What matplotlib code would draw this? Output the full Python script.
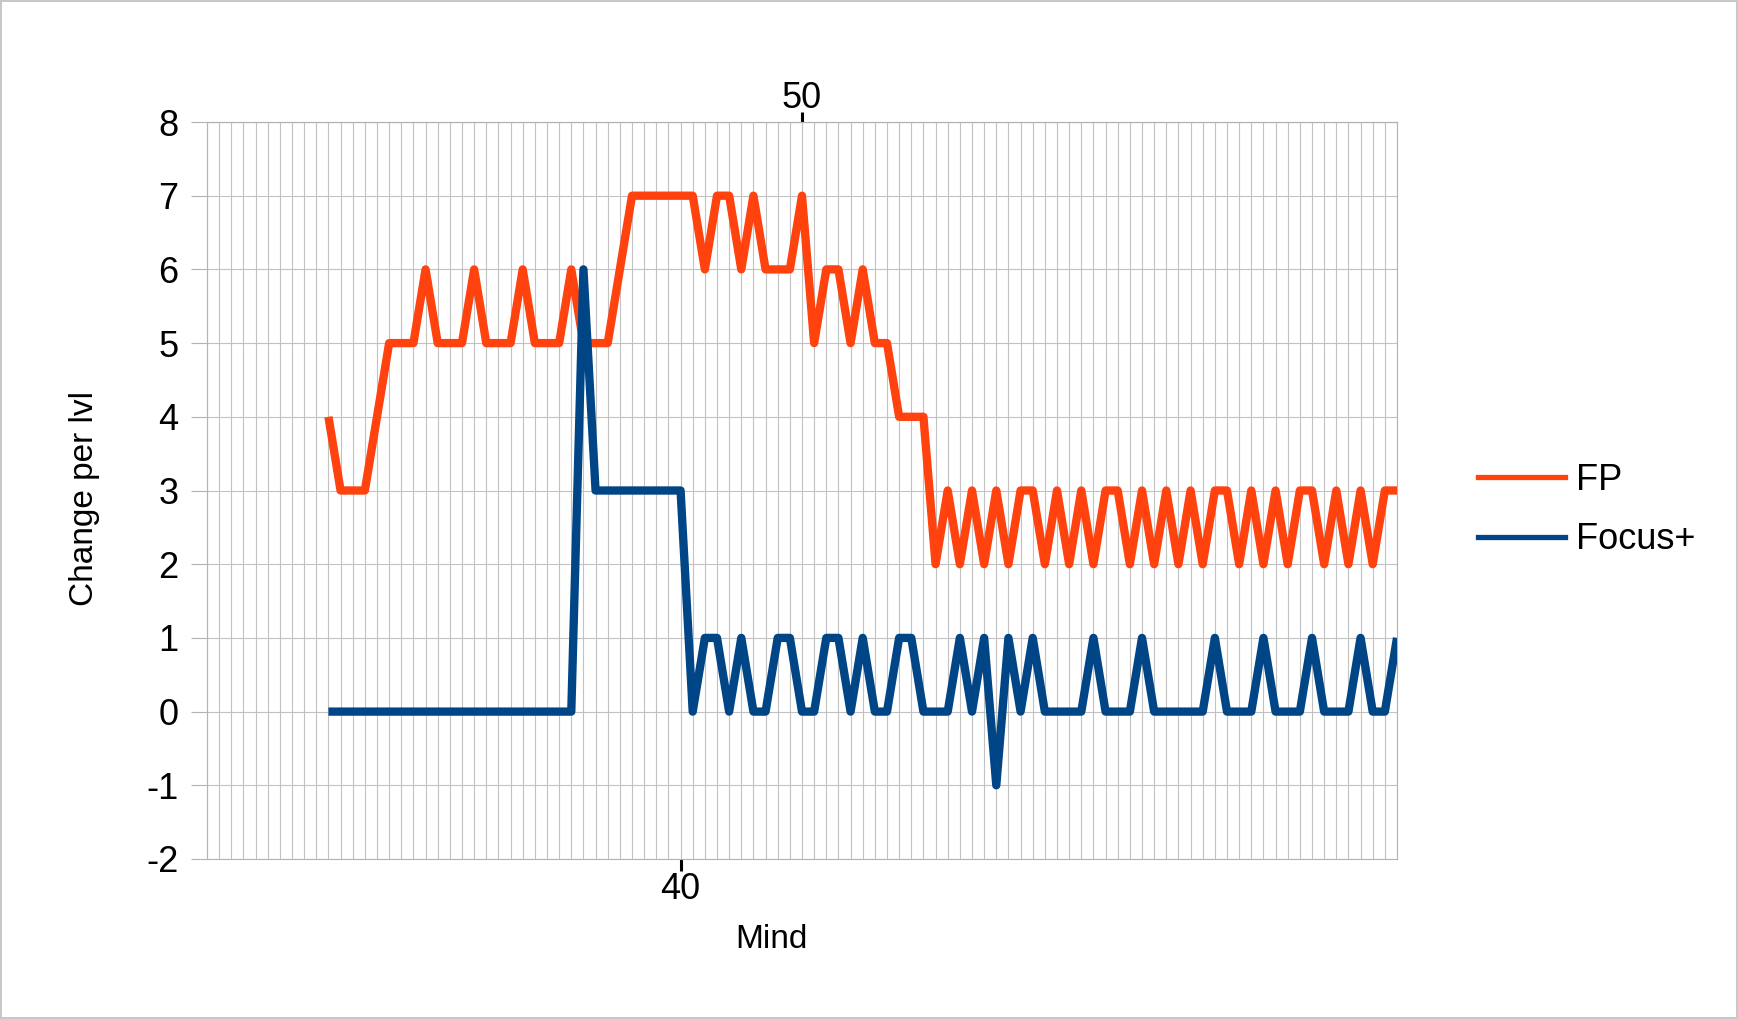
import matplotlib
matplotlib.use('Agg')
import matplotlib.pyplot as plt
from matplotlib.lines import Line2D

# Data (one point per level, levels 11..99)
levels = list(range(11, 100))

fp_values = [
    4, 3, 3, 3, 4, 5, 5, 5, 6, 5,   # 11-20
    5, 5, 6, 5, 5, 5, 6, 5, 5, 5,   # 21-30
    6, 5, 5, 5, 6, 7, 7, 7, 7, 7,   # 31-40
    7, 6, 7, 7, 6, 7, 6, 6, 6, 7,   # 41-50
    5, 6, 6, 5, 6, 5, 5, 4, 4, 4,   # 51-60
    2, 3, 2, 3, 2, 3, 2, 3, 3, 2,   # 61-70
    3, 2, 3, 2, 3, 3, 2, 3, 2, 3,   # 71-80
    2, 3, 2, 3, 3, 2, 3, 2, 3, 2,   # 81-90
    3, 3, 2, 3, 2, 3, 2, 3, 3,      # 91-99
]

focus_values = [
    0, 0, 0, 0, 0, 0, 0, 0, 0, 0,   # 11-20
    0, 0, 0, 0, 0, 0, 0, 0, 0, 0,   # 21-30
    0, 6, 3, 3, 3, 3, 3, 3, 3, 3,   # 31-40
    0, 1, 1, 0, 1, 0, 0, 1, 1, 0,   # 41-50
    0, 1, 1, 0, 1, 0, 0, 1, 1, 0,   # 51-60
    0, 0, 1, 0, 1, -1, 1, 0, 1, 0,  # 61-70
    0, 0, 0, 1, 0, 0, 0, 1, 0, 0,   # 71-80
    0, 0, 0, 1, 0, 0, 0, 1, 0, 0,   # 81-90
    0, 1, 0, 0, 0, 1, 0, 0, 1,      # 91-99
]

series_names = ['FP', 'Focus+']
series_colors = ['#ff420e', '#004586']

y_ticks = list(range(-2, 9))
x_limits = (1, 99)
bottom_tick = 40
top_tick = 50

GRID_COLOR = '#c2c2c2'
AXIS_COLOR = '#b3b3b3'

plt.rcParams['font.family'] = ['Liberation Sans', 'DejaVu Sans']
plt.rcParams['axes.unicode_minus'] = False  # plain hyphen like the original

fig = plt.figure(figsize=(17.38, 10.19), dpi=100)
fig.patch.set_facecolor('white')
fig.patch.set_edgecolor('#c8c8c8')
fig.patch.set_linewidth(1.5)

ax = fig.add_axes([207 / 1738, 1 - 859 / 1019, (1397 - 207) / 1738, (859 - 122) / 1019])

# Lines
for values, name, color in zip([fp_values, focus_values], series_names, series_colors):
    ax.plot(levels, values, color=color, linewidth=6.0, label=name,
            solid_joinstyle='round', solid_capstyle='butt', zorder=3)

ax.set_xlim(*x_limits)
ax.set_ylim(y_ticks[0], y_ticks[-1])

# X axis: one labelled tick at the bottom, gridline for every level
ax.set_xticks([bottom_tick])
ax.set_xticks(range(x_limits[0], x_limits[1] + 1), minor=True)
ax.grid(True, which='both', axis='x', color=GRID_COLOR, linewidth=0.8, zorder=0)
ax.tick_params(axis='x', which='major', direction='out', length=8.5, width=2.2,
               color='black', labelsize=26, pad=0.8)
ax.tick_params(axis='x', which='minor', length=0)

# Y axis
ax.set_yticks(y_ticks)
ax.grid(True, which='major', axis='y', color=GRID_COLOR, linewidth=0.8, zorder=0)
ax.tick_params(axis='y', direction='out', length=11.5, width=0.8,
               color=AXIS_COLOR, labelsize=26, pad=9)

for spine in ax.spines.values():
    spine.set_color(AXIS_COLOR)
    spine.set_linewidth(0.8)

# Secondary x axis on top with the single tick at 50
top_ax = ax.secondary_xaxis('top')
top_ax.set_xticks([top_tick])
top_ax.tick_params(axis='x', direction='out', length=7.0, width=2.2,
                   color='black', labelsize=26, pad=-3.0)
top_ax.spines['top'].set_color(AXIS_COLOR)
top_ax.spines['top'].set_linewidth(0.8)

# Axis titles
fig.text(771.6 / 1738, 1 - 940 / 1019, 'Mind', ha='center', va='center', fontsize=24)
fig.text(85 / 1738, 1 - 498 / 1019, 'Change per lvl', rotation=90,
         ha='center', va='center', fontsize=24)

# Legend with thinner lines than the plot
handles = [Line2D([], [], color=c, linewidth=3.8) for c in series_colors]
fig.legend(handles, series_names, loc='center left',
           bbox_to_anchor=(1478 / 1738, 1 - 510 / 1019),
           frameon=False, fontsize=26, handlelength=2.41, handletextpad=0.3,
           labelspacing=0.69, borderpad=0, borderaxespad=0)

fig.savefig('out.png', dpi=100, facecolor=fig.get_facecolor(),
            edgecolor=fig.get_edgecolor())
plt.close(fig)
